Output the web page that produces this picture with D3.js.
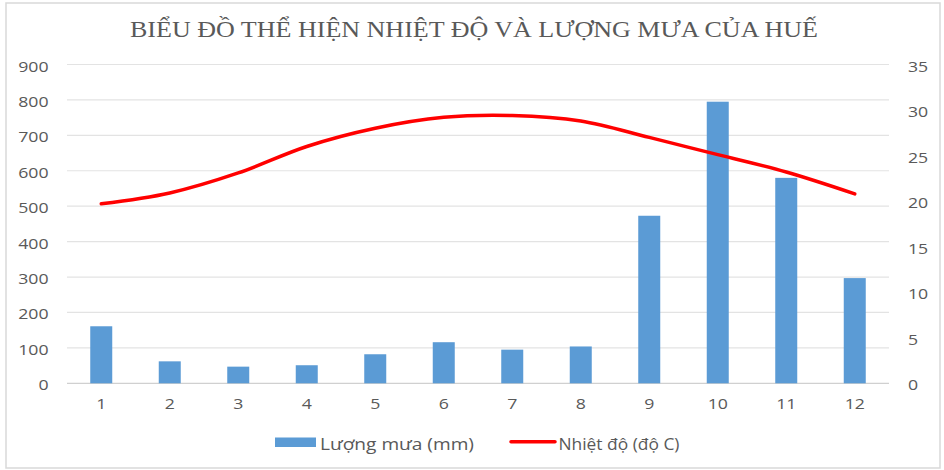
<!DOCTYPE html>
<html>
<head>
<meta charset="utf-8">
<script src="https://cdn.jsdelivr.net/npm/d3@7"></script>
<style>
html,body{margin:0;padding:0;background:#fff;}
svg{display:block;}
</style>
</head>
<body>
<svg id="chart" width="944" height="470"></svg>
<script>
const months = ["1","2","3","4","5","6","7","8","9","10","11","12"];
const rainfall = [161, 62, 47, 51, 82, 116, 95, 104, 473, 795, 580, 297];
const temperature = [19.7, 20.9, 23.1, 26.0, 28.0, 29.2, 29.4, 28.8, 27.0, 25.1, 23.2, 20.8];
const leftTicks = [0,100,200,300,400,500,600,700,800,900];
const rightTicks = [0,5,10,15,20,25,30,35];
const titleText = "BIỂU ĐỒ THỂ HIỆN NHIỆT ĐỘ VÀ LƯỢNG MƯA CỦA HUẾ";
const rainLabel = "Lượng mưa (mm)";
const tempLabel = "Nhiệt độ (độ C)";

const svg = d3.select("#chart");
const plot = {left: 67, right: 889, top: 64.5, bottom: 383.3};
const textColor = "#595959";
const sans = "'Open Sans', 'Liberation Sans', sans-serif";
const stretch = 1.22;

function widen(sel, k) {
  sel.each(function() {
    const w = this.getComputedTextLength();
    d3.select(this).attr("textLength", w * k).attr("lengthAdjust", "spacingAndGlyphs");
  });
}

// frame
svg.append("rect").attr("x",6).attr("y",3).attr("width",934).attr("height",465)
  .attr("fill","#fff").attr("stroke","#d9d9d9").attr("stroke-width",1.5);

const x = d3.scaleBand().domain(months).range([plot.left, plot.right]);
const yL = d3.scaleLinear().domain([0,900]).range([plot.bottom, plot.top]);
const yR = d3.scaleLinear().domain([0,35]).range([plot.bottom, plot.top]);

// title
svg.append("text").attr("x", 474).attr("y", 37)
  .attr("text-anchor","middle")
  .attr("font-family","'Liberation Serif','Times New Roman',serif")
  .attr("font-size", 23).attr("fill", textColor)
  .attr("textLength", 688).attr("lengthAdjust","spacingAndGlyphs")
  .text(titleText);

// gridlines
svg.append("g").selectAll("line").data(leftTicks).join("line")
  .attr("x1", plot.left).attr("x2", plot.right)
  .attr("y1", d => yL(d)).attr("y2", d => yL(d))
  .attr("stroke", d => d === 0 ? "#d0d0d0" : "#e3e3e3").attr("stroke-width", 1.2);

// left axis
const axL = svg.append("g").attr("transform", `translate(${plot.left},0)`)
  .call(d3.axisLeft(yL).tickValues(leftTicks).tickSize(0).tickPadding(18.5));
axL.select(".domain").remove();
axL.selectAll("text").attr("font-family", sans).attr("font-size", 14.5).attr("fill", textColor).attr("dy","0.45em");
widen(axL.selectAll("text"), stretch);

// right axis
const axR = svg.append("g").attr("transform", `translate(${plot.right},0)`)
  .call(d3.axisRight(yR).tickValues(rightTicks).tickSize(0).tickPadding(19));
axR.select(".domain").remove();
axR.selectAll("text").attr("font-family", sans).attr("font-size", 14.5).attr("fill", textColor).attr("dy","0.45em");
widen(axR.selectAll("text"), stretch);

// x axis
const axB = svg.append("g").attr("transform", `translate(0,${plot.bottom})`)
  .call(d3.axisBottom(x).tickSize(0).tickPadding(15.5));
axB.select(".domain").remove();
axB.selectAll("text").attr("font-family", sans).attr("font-size", 14.5).attr("fill", textColor);
widen(axB.selectAll("text"), stretch);

// bars
const barW = 22;
svg.append("g").selectAll("rect").data(rainfall).join("rect")
  .attr("x", (d,i) => x(months[i]) + x.bandwidth()/2 - barW/2)
  .attr("y", d => yL(d))
  .attr("width", barW)
  .attr("height", d => yL(0) - yL(d))
  .attr("fill", "#5b9bd5");

// line
const line = d3.line()
  .x((d,i) => x(months[i]) + x.bandwidth()/2)
  .y(d => yR(d))
  .curve(d3.curveCatmullRom.alpha(0));
svg.append("path").datum(temperature)
  .attr("d", line).attr("fill","none")
  .attr("stroke","#ff0000").attr("stroke-width",3.5)
  .attr("stroke-linecap","round").attr("stroke-linejoin","round");

// legend
const lg = svg.append("g");
lg.append("rect").attr("x",275).attr("y",437.5).attr("width",41).attr("height",9.5).attr("fill","#5b9bd5");
lg.append("text").attr("x",320).attr("y",449.5).attr("font-family",sans).attr("font-size",16.5)
  .attr("fill",textColor).attr("textLength",154).attr("lengthAdjust","spacingAndGlyphs").text(rainLabel);
lg.append("line").attr("x1",511).attr("x2",555).attr("y1",441.7).attr("y2",441.7)
  .attr("stroke","#ff0000").attr("stroke-width",3.5).attr("stroke-linecap","round");
lg.append("text").attr("x",558.5).attr("y",449.5).attr("font-family",sans).attr("font-size",16.5)
  .attr("fill",textColor).attr("textLength",121).attr("lengthAdjust","spacingAndGlyphs").text(tempLabel);
</script>
</body>
</html>
